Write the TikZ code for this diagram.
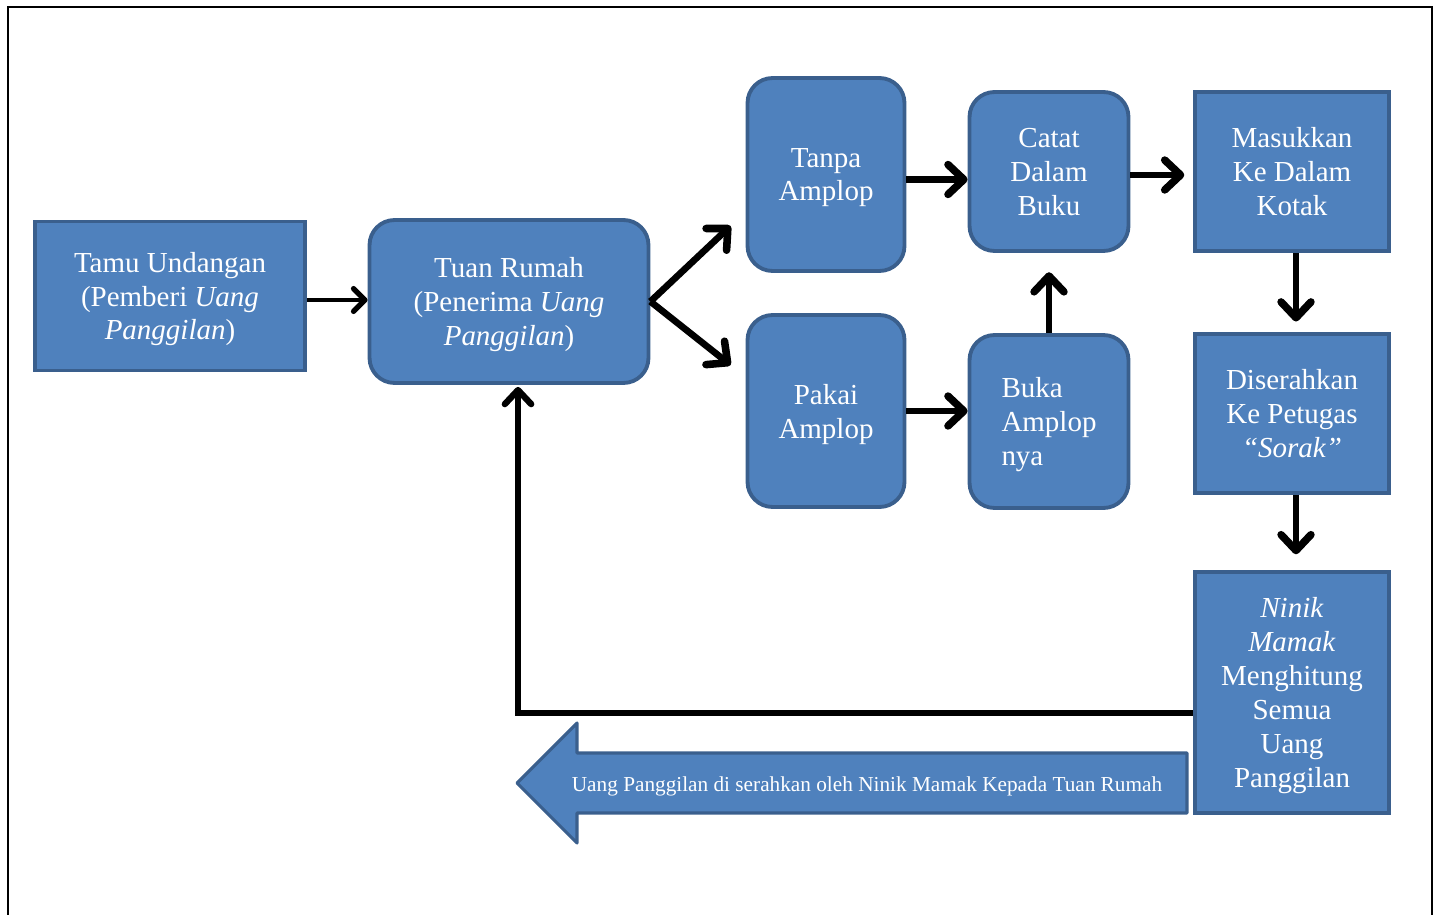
\documentclass[tikz,border=0pt]{standalone}
\usepackage{fontspec}
\setmainfont{Liberation Serif}
\usetikzlibrary{arrows.meta,calc}
\definecolor{boxfill}{HTML}{4F81BD}
\definecolor{boxline}{HTML}{3A5F8D}
\newcommand{\boxfont}{\fontsize{16.5}{19.3}\selectfont}

\begin{document}
\begin{tikzpicture}[x=0.02cm,y=-0.02cm,
    blok/.style={draw=boxline,fill=boxfill,line width=2.2pt,text=white,font=\boxfont,align=center,inner sep=0pt,text depth=0pt},
    sudut/.style={blok,rounded corners=0.5cm},
    arr/.style={line width=3.8pt,-{Straight Barb[length=9pt,width=17pt,line width=4.3pt,round]}},
    arrkecil/.style={line width=2.4pt,-{Straight Barb[length=6.5pt,width=13pt,line width=3pt,round]}}]
                \useasboundingbox (0,0) rectangle (1439,915);
                \draw[line width=1.2pt] (8,915)--(8,7)--(1432,7)--(1432,915);
                % kotak
                \node[blok,minimum width=5.4cm,minimum height=2.98cm] (tamu) at (170,296) {Tamu Undangan\\(Pemberi \textit{Uang}\\\textit{Panggilan})};
                \node[sudut,minimum width=5.58cm,minimum height=3.26cm] (tuan) at (509,301.5) {Tuan Rumah\\(Penerima \textit{Uang}\\\textit{Panggilan})};
                \node[sudut,minimum width=3.14cm,minimum height=3.86cm] (tanpa) at (826,174.5) {Tanpa\\Amplop};
                \node[sudut,minimum width=3.14cm,minimum height=3.84cm] (pakai) at (826,411) {Pakai\\Amplop};
                \node[sudut,minimum width=3.18cm,minimum height=3.18cm] (catat) at (1049,171.5) {Catat\\Dalam\\Buku};
                \node[sudut,minimum width=3.18cm,minimum height=3.46cm,align=left] (buka) at (1049,421.5) {Buka\\Amplop\\nya};
                \node[blok,minimum width=3.88cm,minimum height=3.18cm] (masuk) at (1292,171.5) {Masukkan\\Ke Dalam\\Kotak};
                \node[blok,minimum width=3.88cm,minimum height=3.18cm] (serah) at (1292,413.5) {Diserahkan\\Ke Petugas\\\textit{``Sorak''}};
                \node[blok,minimum width=3.88cm,minimum height=4.82cm] (ninik) at (1292,692.5) {\textit{Ninik}\\\textit{Mamak}\\Menghitung\\Semua\\Uang\\Panggilan};
                % panah
                \draw[arrkecil] ([yshift=-0.08cm]tamu.east)--([yshift=-0.08cm]tamu.east -| tuan.west);
                \draw[arr] (tuan.east)--([shift={(-15,-47)}]tanpa.south west);
                \draw[arr] (tuan.east)--([shift={(-15,52)}]pakai.north west);
                \draw[arr] ([yshift=-0.1cm]tanpa.east)--([yshift=-0.1cm]tanpa.east -| catat.west);
                \draw[arr,shorten >=5pt] ([yshift=-0.07cm]catat.east)--([yshift=-0.07cm]catat.east -| masuk.west);
                \draw[arr] (pakai.east)--(pakai.east -| buka.west);
                \draw[arr,shorten >=11pt] (buka.north)--(catat.south);
                \draw[arr,shorten >=6pt] ([xshift=0.08cm]masuk.south)--([xshift=0.08cm]serah.north);
                \draw[arr,shorten >=9pt] ([xshift=0.08cm]serah.south)--([xshift=0.08cm]ninik.north);
                \draw[line width=3.2pt,-{Straight Barb[length=8pt,width=15pt,line width=3.6pt,round]}] ([shift={(0,20.5)}]ninik.west) -| ([shift={(9,2)}]tuan.south);
                % panah besar
                \draw[draw=boxline,fill=boxfill,line width=1.8pt,line join=round] (1187,753)--(577,753)--(577,723)--(517,783)--(577,843)--(577,813)--(1187,813)--cycle;
                \node[text=white,font=\fontsize{12.1}{14}\selectfont] (catatan) at (867,786) {Uang Panggilan di serahkan oleh Ninik Mamak Kepada Tuan Rumah};
\end{tikzpicture}
\end{document}
